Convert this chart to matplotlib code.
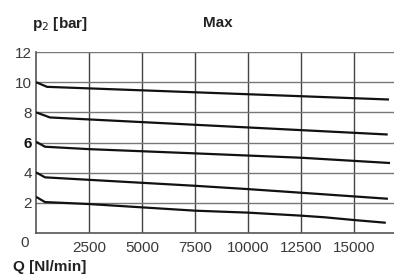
import numpy as np
import matplotlib
matplotlib.use("Agg")
import matplotlib.pyplot as plt

plt.rcParams['font.family'] = ['Liberation Sans', 'DejaVu Sans']

# curves (Q in Nl/min, p2 in bar)
q10 = [0, 520, 10000, 16650]
p10 = [10.0, 9.69, 9.20, 8.85]
q8 = [0, 660, 16590]
p8 = [8.0, 7.66, 6.53]
q6 = [0, 425, 2500, 7500, 12500, 16700]
p6 = [6.05, 5.72, 5.56, 5.28, 4.99, 4.64]
q4 = [0, 425, 7500, 10000, 12500, 16600]
p4 = [4.02, 3.69, 3.13, 2.91, 2.67, 2.27]
q2 = [0, 425, 2500, 7500, 10000, 12500, 13630, 15000, 16500]
p2 = [2.4, 2.05, 1.92, 1.48, 1.35, 1.15, 1.04, 0.86, 0.68]

xticks = [2500, 5000, 7500, 10000, 12500, 15000]
yticks = [2, 4, 6, 8, 10, 12]

fig = plt.figure(figsize=(3.94, 2.80), dpi=100)
ax = fig.add_axes([36/394, 1-233/280, 1-36/394, (233-52)/280])

# grid
for x in xticks:
    ax.axvline(x, color='#444444', lw=1.0, zorder=1)
for y in yticks:
    ax.axhline(y, color='#777777', lw=1.0, zorder=1)

for q, p in [(q10, p10), (q8, p8), (q6, p6), (q4, p4), (q2, p2)]:
    ax.plot(q, p, color='#111111', lw=1.6, zorder=3, solid_capstyle='butt')

ax.set_xlim(0, 16887)
ax.set_ylim(0, 12)
for s in ['top', 'right']:
    ax.spines[s].set_visible(False)
ax.spines['left'].set_color('#555555')
ax.spines['bottom'].set_color('#555555')
ax.spines['left'].set_linewidth(1.2)
ax.spines['bottom'].set_linewidth(1.2)

ax.set_xticks(xticks)
ax.set_xticklabels([str(x) for x in xticks])
ax.set_yticks(yticks)
ax.set_yticklabels([str(y) for y in yticks])
ax.tick_params(length=0, labelsize=11, labelcolor='#3a3a3a')
ax.tick_params(axis='x', pad=6)
ax.tick_params(axis='y', pad=3)
for lab in ax.get_yticklabels():
    if lab.get_text() == '6':
        lab.set_fontweight('bold')
        lab.set_color('#111111')

fig.text(25/394, 1-243/280, '0', ha='center', va='center', fontsize=11, color='#3a3a3a')
fig.text(32/394, 1-24/280, r'p$_2$ [bar]', ha='left', va='center', fontsize=11, fontweight='bold',
         color='#222222')
fig.text(203/394, 1-23/280, 'Max', ha='left', va='center', fontsize=11, fontweight='bold',
         color='#222222')
fig.text(13/394, 1-267/280, 'Q [Nl/min]', ha='left', va='center', fontsize=11, fontweight='bold',
         color='#222222')

fig.savefig('out.png', dpi=100)
